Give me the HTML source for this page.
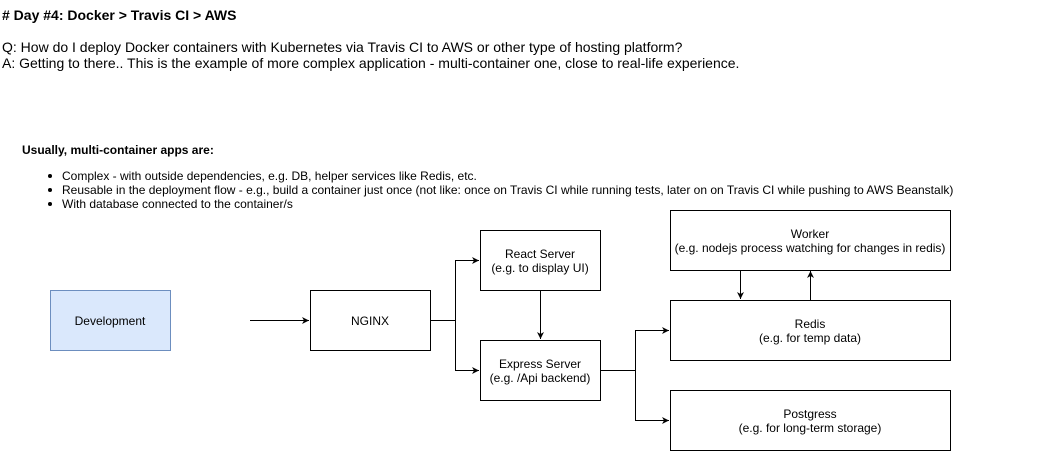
<!DOCTYPE html>
<html><head><style>
body{margin:0;width:1041px;height:451px;background:#fff;overflow:hidden;font-family:"Liberation Sans",sans-serif;}
</style></head><body>
<svg width="1041" height="451" xmlns="http://www.w3.org/2000/svg" font-family="Liberation Sans, sans-serif">
<defs><marker id="a" markerWidth="8" markerHeight="8" refX="7" refY="4" orient="auto" markerUnits="userSpaceOnUse"><path d="M0,0.5 L7,4 L0,7.5 L2,4 z" fill="#000"/></marker></defs>
<text x="2" y="20" font-size="14" font-weight="bold">#  Day #4: Docker &gt; Travis CI &gt; AWS</text>
<text x="2" y="52" font-size="14">Q: How do I deploy Docker containers with Kubernetes via Travis CI to AWS or other type of hosting platform?</text>
<text x="2" y="68" font-size="14">A: Getting to there.. This is the example of more complex application - multi-container one, close to real-life experience.</text>
<text x="22" y="154" font-size="12" font-weight="bold">Usually, multi-container apps are:</text>
<g font-size="12">
<circle cx="50" cy="176" r="2"/><text x="62" y="180">Complex - with outside dependencies, e.g. DB, helper services like Redis, etc.</text>
<circle cx="50" cy="190" r="2"/><text x="62" y="194">Reusable in the deployment flow - e.g., build a container just once (not like: once on Travis CI while running tests, later on on Travis CI while pushing to AWS Beanstalk)</text>
<circle cx="50" cy="204" r="2"/><text x="62" y="208">With database connected to the container/s</text>
</g>
<g stroke="#000" fill="#fff">
<rect x="50.5" y="290.5" width="120" height="60" fill="#dae8fc" stroke="#6c8ebf"/>
<rect x="310.5" y="290.5" width="120" height="60"/>
<rect x="480.5" y="230.5" width="120" height="60"/>
<rect x="480.5" y="340.5" width="120" height="60"/>
<rect x="670.5" y="210.5" width="280" height="60"/>
<rect x="670.5" y="300.5" width="280" height="60"/>
<rect x="670.5" y="390.5" width="280" height="60"/>
</g>
<g stroke="#000" fill="none">
<path d="M250,320.5 H309" marker-end="url(#a)"/>
<path d="M430,320.5 H455.5 V260.5 H479" marker-end="url(#a)"/>
<path d="M455.5,320.5 V370.5 H479" marker-end="url(#a)"/>
<path d="M540.5,290 V339" marker-end="url(#a)"/>
<path d="M600,370.5 H635.5 V330.5 H669" marker-end="url(#a)"/>
<path d="M635.5,370.5 V420.5 H669" marker-end="url(#a)"/>
<path d="M740.5,270 V299" marker-end="url(#a)"/>
<path d="M810.5,300 V271" marker-end="url(#a)"/>
</g>
<g font-size="12" text-anchor="middle">
<text x="110" y="325">Development</text>
<text x="370" y="325">NGINX</text>
<text x="540" y="258">React Server</text><text x="540" y="272">(e.g. to display UI)</text>
<text x="540" y="368">Express Server</text><text x="540" y="382">(e.g. /Api backend)</text>
<text x="810" y="238">Worker</text><text x="810" y="252">(e.g. nodejs process watching for changes in redis)</text>
<text x="810" y="328">Redis</text><text x="810" y="342">(e.g. for temp data)</text>
<text x="810" y="418">Postgress</text><text x="810" y="432">(e.g. for long-term storage)</text>
</g>
</svg>
</body></html>
